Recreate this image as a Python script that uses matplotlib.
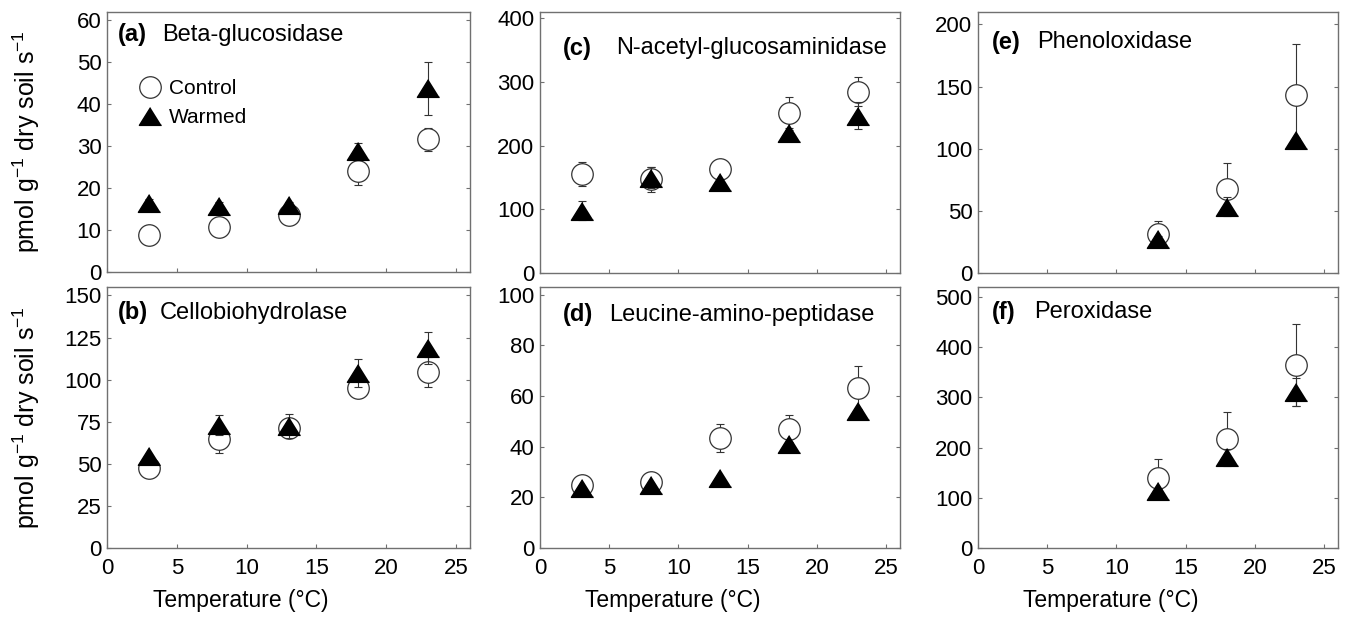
import matplotlib
matplotlib.use("Agg")
import matplotlib.pyplot as plt

plt.rcParams['font.family'] = ['Liberation Sans', 'DejaVu Sans']
plt.rcParams['mathtext.fontset'] = 'custom'
plt.rcParams['mathtext.rm'] = 'Liberation Sans'
plt.rcParams['mathtext.default'] = 'regular'

# Temperaturas (°C)
temps = [3, 8, 13, 18, 23]
temps_ox = [13, 18, 23]

# (a) Beta-glucosidase
bg_ctrl = [8.8, 10.8, 13.6, 24.1, 31.6]
bg_ctrl_se = [1.0, 1.0, 1.0, 3.4, 2.8]
bg_warm = [16.5, 15.8, 16.0, 28.8, 43.8]
bg_warm_se = [0.8, 0.8, 0.8, 2.0, 6.3]

# (b) Cellobiohydrolase
cb_ctrl = [47.5, 64.5, 71.0, 95.0, 104.5]
cb_ctrl_se = [2.0, 8.0, 5.0, 3.0, 9.0]
cb_warm = [54.5, 73.0, 72.5, 104.0, 119.0]
cb_warm_se = [1.0, 6.0, 7.0, 8.5, 9.5]

# (c) N-acetyl-glucosaminidase
nag_ctrl = [155, 147, 164, 252, 285]
nag_ctrl_se = [19, 20, 5, 24, 23]
nag_warm = [98, 150, 143, 220, 247]
nag_warm_se = [15, 17, 4, 4, 21]

# (d) Leucine-amino-peptidase
lap_ctrl = [25.0, 26.0, 43.5, 47.0, 63.0]
lap_ctrl_se = [1.0, 1.0, 5.5, 5.5, 9.0]
lap_warm = [23.5, 24.8, 27.5, 41.0, 54.0]
lap_warm_se = [0.5, 0.5, 0.5, 1.0, 1.0]

# (e) Phenoloxidase
phe_ctrl = [31.5, 67.5, 143.0]
phe_ctrl_se = [10, 21, 41]
phe_warm = [27.5, 53.5, 107.0]
phe_warm_se = [2, 7.5, 2]

# (f) Peroxidase
per_ctrl = [140, 218, 365]
per_ctrl_se = [38, 52, 82]
per_warm = [113, 181, 310]
per_warm_se = [4, 17, 28]

panels = [
    ("(a)", "Beta-glucosidase", temps, bg_ctrl, bg_ctrl_se, bg_warm, bg_warm_se, 62, 10),
    ("(b)", "Cellobiohydrolase", temps, cb_ctrl, cb_ctrl_se, cb_warm, cb_warm_se, 155, 25),
    ("(c)", "N-acetyl-glucosaminidase", temps, nag_ctrl, nag_ctrl_se, nag_warm, nag_warm_se, 410, 100),
    ("(d)", "Leucine-amino-peptidase", temps, lap_ctrl, lap_ctrl_se, lap_warm, lap_warm_se, 103, 20),
    ("(e)", "Phenoloxidase", temps_ox, phe_ctrl, phe_ctrl_se, phe_warm, phe_warm_se, 210, 50),
    ("(f)", "Peroxidase", temps_ox, per_ctrl, per_ctrl_se, per_warm, per_warm_se, 520, 100),
]

W, H = 1356, 618
fig = plt.figure(figsize=(W / 100, H / 100), dpi=100)

# posições dos eixos em pixels (esquerda, topo, largura, altura)
lefts = [107, 107, 540, 540, 978, 978]
tops = [12, 287, 12, 287, 12, 287]
widths = [363, 363, 360, 360, 360, 360]
heights = [260, 261, 261, 261, 261, 261]
# posição dos rótulos (px relativos ao canto superior esquerdo)
lab_dx = [11, 11, 23, 23, 14, 14]
txt_dx = [55, 53, 76, 69, 59, 56]
lab_dy = [23, 26, 36, 28, 30, 25]

frame_col = '#707070'
tri = [(0, 0.8), (-1, -0.8), (1, -0.8)]  # triângulo um pouco achatado

for i, (tag, name, x, yc, ec, yw, ew, ymax, ystep) in enumerate(panels):
    ax = fig.add_axes([lefts[i] / W, (H - tops[i] - heights[i]) / H,
                       widths[i] / W, heights[i] / H])
    ax.errorbar(x, yc, yerr=ec, fmt='none', ecolor='#333333', elinewidth=0.8,
                capsize=3, capthick=0.8, zorder=2)
    ax.plot(x, yc, 'o', ms=15.5, mfc='white', mec='#333333', mew=0.9,
            zorder=3, label='Control')
    ax.errorbar(x, yw, yerr=ew, fmt='none', ecolor='#333333', elinewidth=0.8,
                capsize=3, capthick=0.8, zorder=4)
    ax.plot(x, yw, marker=tri, ls='none', ms=16, mfc='black', mec='black',
            zorder=5, label='Warmed')

    ax.set_xlim(0, 26)
    ax.set_ylim(0, ymax)
    ax.set_xticks(range(0, 26, 5))
    ax.set_yticks(range(0, ymax + 1, ystep))
    ax.tick_params(direction='in', length=3, width=0.8, color=frame_col,
                   labelsize=16, right=True)
    ax.tick_params(axis='x', pad=7)
    ax.tick_params(axis='y', pad=4)
    for s in ax.spines.values():
        s.set_color(frame_col)
        s.set_linewidth(1.0)

    if i % 2 == 0:
        ax.set_xticklabels([])
    else:
        ax.set_xlabel('Temperature (°C)', fontsize=16.5)
        ax.xaxis.set_label_coords(0.368, -0.2)
        ax.xaxis.label.set_va('center')
    if i < 2:
        ax.set_ylabel('pmol g$^{-1}$ dry soil s$^{-1}$', fontsize=18)
        ax.yaxis.set_label_coords((42 - lefts[i]) / widths[i], 0.5)

    bx = lab_dx[i] / widths[i]
    tx = txt_dx[i] / widths[i]
    by = 1 - lab_dy[i] / heights[i]
    ax.text(bx, by, tag, transform=ax.transAxes, fontsize=17,
            fontweight='bold', va='center', ha='left')
    ax.text(tx, by, name, transform=ax.transAxes, fontsize=17,
            va='center', ha='left')

    if i == 0:
        ax.legend(loc='upper left', bbox_to_anchor=(0.062, 0.775), frameon=False,
                  fontsize=15, handletextpad=0.3, labelspacing=0.5,
                  borderaxespad=0, handlelength=1.2)

fig.savefig('out.png', dpi=100)
